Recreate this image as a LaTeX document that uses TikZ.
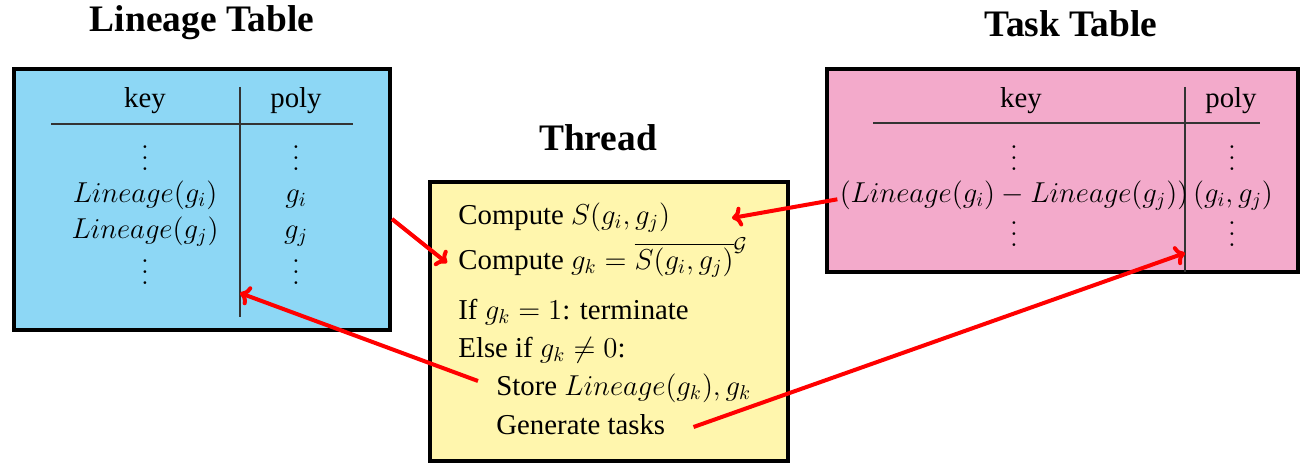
\documentclass[tikz,border=0pt]{standalone}
\usepackage{fontspec}
\setmainfont{Liberation Serif}
\usetikzlibrary{arrows.meta,calc}
\definecolor{linblue}{RGB}{141,215,245}
\definecolor{taskpink}{RGB}{243,170,203}
\definecolor{threadyellow}{RGB}{255,246,173}
\newcommand\tvdots{\vbox{\baselineskip5.3pt\lineskiplimit0pt\hbox{$.$}\hbox{$.$}\hbox{$.$}}}
\begin{document}
\begin{tikzpicture}[x=0.5pt,y=-0.5pt,
  box/.style={draw=black, line width=2pt, inner sep=0pt},
  title/.style={font=\fontsize{18.7}{22}\selectfont\bfseries, anchor=base, inner sep=0pt},
  txt/.style={font=\fontsize{14.4}{17}\selectfont, inner sep=0pt},
  cell/.style={txt, anchor=base},
  line/.style={txt, anchor=base west},
  tabrule/.style={draw=black!80, line width=0.6pt},
  arr/.style={draw=red, line width=2pt, -{To[length=5pt,width=10pt]}}
]
\useasboundingbox (0,0) rectangle (1306,465);

% boxes
\node[box, fill=linblue, minimum width=188pt, minimum height=130.5pt] (lin) at (202,199.5) {};
\node[box, fill=threadyellow, minimum width=179pt, minimum height=139.5pt] (thr) at (609,321.5) {};
\node[box, fill=taskpink, minimum width=235.5pt, minimum height=101.5pt] (task) at (1062.5,170.5) {};

% titles
\node[title] (tl) at (202,32) {Lineage Table};
\node[title] (th) at (598,150) {Thread};
\node[title] (tt) at (1071,37) {Task Table};

% lineage table
\draw[tabrule] (51,124) -- (353,124);
\draw[tabrule] (240,87) -- (240,317);
\coordinate (lv) at (240,293);
\node[cell] (lk) at (145,108) {key};
\node[cell] (lp) at (296,108) {poly};
\node[cell] (ld1) at (145,170) {\tvdots};
\node[cell] (lpd1) at (296,170) {\tvdots};
\node[cell] (lgi) at (145,202) {$Lineage(g_i)$};
\node[cell] (lpi) at (296,202) {$g_i$};
\node[cell] (lgj) at (145,238) {$Lineage(g_j)$};
\node[cell] (lpj) at (296,238) {$g_j$};
\node[cell] (ld2) at (145,284) {\tvdots};
\node[cell] (lpd2) at (296,284) {\tvdots};

% task table
\draw[tabrule] (873,123) -- (1260,123);
\draw[tabrule] (1185,87) -- (1185,272);
\coordinate (tv) at (1185,253);
\node[cell] (tk) at (1021,108) {key};
\node[cell] (tp) at (1231,108) {poly};
\node[cell] (td1) at (1014,170) {\tvdots};
\node[cell] (tpd1) at (1232,170) {\tvdots};
\node[cell] (tkr) at (1014,202) {$(Lineage(g_i)-Lineage(g_j))$};
\node[cell] (tpr) at (1233,202) {$(g_i,g_j)$};
\node[cell] (td2) at (1014,246) {\tvdots};
\node[cell] (tpd2) at (1232,246) {\tvdots};

% thread text
\node[line] (c1) at (458,224) {Compute $S(g_i,g_j)$};
\node[line] (c2) at (458,269) {Compute $g_k=\overline{S(g_i,g_j)}^{\mathcal{G}}$};
\node[line] (c3) at (458,319) {If $g_k=1$: terminate};
\node[line] (c4) at (458,357) {Else if $g_k\neq 0$:};
\node[line] (c5) at (496,395) {Store $Lineage(g_k), g_k$};
\node[line] (c6) at (496,434) {Generate tasks};
\coordinate (e2) at (732,218);

% arrows
\draw[arr] ([yshift=-9.75pt]lin.east) -- ([xshift=-5.5pt,yshift=3pt]c2.base west);
\draw[arr] ([xshift=-1pt,yshift=-2pt]tkr.west) -- (e2);
\draw[arr] ([xshift=-9pt,yshift=7pt]c5.base west) -- (lv);
\draw[arr] ([xshift=14pt,yshift=3.5pt]c6.base east) -- (tv);
\end{tikzpicture}
\end{document}
